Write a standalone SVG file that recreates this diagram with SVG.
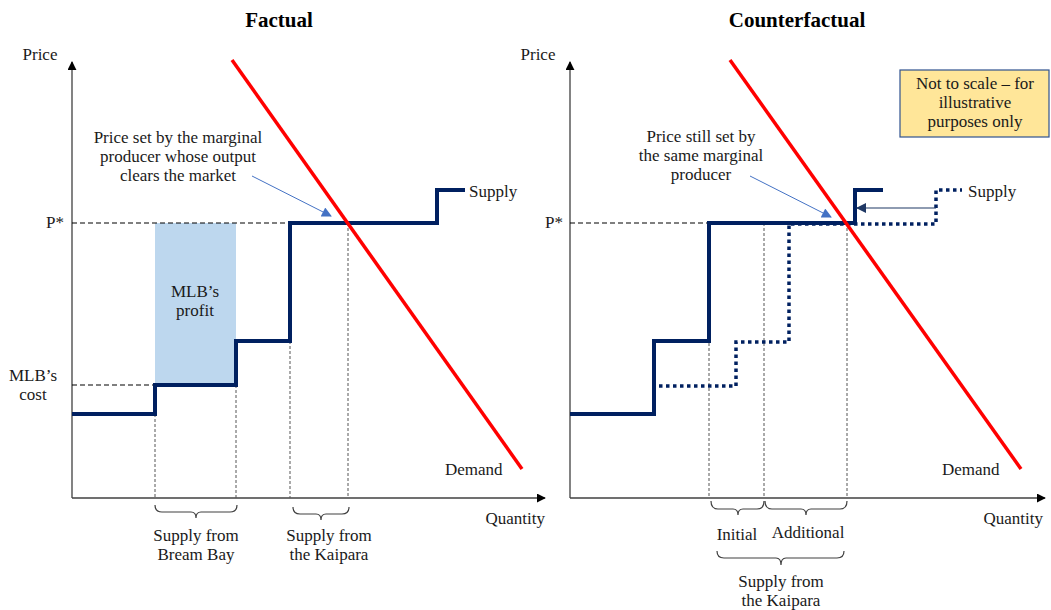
<svg xmlns="http://www.w3.org/2000/svg" width="1051" height="610" viewBox="0 0 1051 610">
<defs>
<marker id="axArr" viewBox="0 0 10 10" refX="9" refY="5" markerWidth="9" markerHeight="9" markerUnits="userSpaceOnUse" orient="auto"><path d="M0,0 L10,5 L0,10 Z" fill="#000"/></marker>
<marker id="blueArr" viewBox="0 0 10 10" refX="9" refY="5" markerWidth="12" markerHeight="10" markerUnits="userSpaceOnUse" orient="auto"><path d="M0,0 L10,5 L0,10 Z" fill="#4472C4"/></marker>
<marker id="navyArr" viewBox="0 0 10 10" refX="9" refY="5" markerWidth="10" markerHeight="10" markerUnits="userSpaceOnUse" orient="auto"><path d="M0,0 L10,5 L0,10 Z" fill="#1F3864"/></marker>
</defs>
<style>
text{font-family:"Liberation Serif","DejaVu Serif",serif;font-size:17px;fill:#1a1a1a}
.title{font-size:21px;font-weight:bold;fill:#000}
.mid{text-anchor:middle}
.end{text-anchor:end}
.axis{stroke:#404040;stroke-width:1.3;fill:none}
.pdash{stroke:#000;stroke-width:1.1;stroke-dasharray:5,3;fill:none}
.vdot{stroke:#555;stroke-width:1;stroke-dasharray:3,2;fill:none}
.supply{stroke:#002060;stroke-width:4;fill:none;stroke-linejoin:miter}
.supdot{stroke:#002060;stroke-width:3.5;fill:none;stroke-dasharray:3.5,3.5}
.demand{stroke:#FF0000;stroke-width:3.5;fill:none}
.brace{stroke:#404040;stroke-width:1.2;fill:none}
.note{stroke:#4472C4;stroke-width:1;fill:none}
</style>

<g id="factual">
<text class="title mid" x="279" y="27">Factual</text>
<g id="f-axes">
<line class="axis" x1="72" y1="498" x2="72" y2="62" marker-end="url(#axArr)"/>
<line class="axis" x1="72" y1="498" x2="545" y2="498" marker-end="url(#axArr)"/>
<text class="mid" x="40" y="60">Price</text>
<text class="end" x="545" y="524">Quantity</text>
</g>
<g id="f-profit"><rect x="155" y="223" width="81" height="162" fill="#BDD7EE"/>
<text class="mid" x="195" y="297">MLB’s</text><text class="mid" x="195" y="316">profit</text></g>
<g id="f-guides">
<line class="pdash" x1="72" y1="223" x2="290" y2="223"/>
<text class="end" x="64" y="228">P*</text>
<line class="pdash" x1="72" y1="385" x2="155" y2="385"/>
<text class="mid" x="33" y="381">MLB’s</text><text class="mid" x="33" y="400">cost</text>
<line class="vdot" x1="155" y1="414" x2="155" y2="498"/>
<line class="vdot" x1="236" y1="385" x2="236" y2="498"/>
<line class="vdot" x1="290" y1="341" x2="290" y2="498"/>
<line class="vdot" x1="348" y1="223" x2="348" y2="498"/>
</g>
<g id="f-supply"><path class="supply" d="M72,414 H155 V385 H236 V341 H290 V223 H437 V190 H465"/>
<text x="469" y="197">Supply</text></g>
<g id="f-demand"><line class="demand" x1="232" y1="60" x2="522" y2="469"/>
<text x="445" y="475">Demand</text></g>
<g id="f-note">
<text class="mid" x="178" y="143">Price set by the marginal</text>
<text class="mid" x="178" y="162">producer whose output</text>
<text class="mid" x="178" y="181">clears the market</text>
</g>
<g id="f-brace1"><path class="brace" d="M155,505 Q155,512 162,512 L191,512 Q196,512 196,518 Q196,512 201,512 L230,512 Q237,512 237,505"/>
<text class="mid" x="196" y="541">Supply from</text><text class="mid" x="196" y="560">Bream Bay</text></g>
<g id="f-brace2"><path class="brace" d="M293,507 Q293,514 300,514 L316,514 Q321,514 321,520 Q321,514 326,514 L342,514 Q349,514 349,507"/>
<text class="mid" x="329" y="541">Supply from</text><text class="mid" x="329" y="560">the Kaipara</text></g>
</g>

<g id="counterfactual">
<text class="title mid" x="797" y="27">Counterfactual</text>
<g id="c-axes">
<line class="axis" x1="570" y1="498" x2="570" y2="62" marker-end="url(#axArr)"/>
<line class="axis" x1="570" y1="498" x2="1045" y2="498" marker-end="url(#axArr)"/>
<text class="mid" x="538" y="60">Price</text>
<text class="end" x="1043" y="524">Quantity</text>
</g>
<g id="c-guides">
<line class="pdash" x1="570" y1="223" x2="709" y2="223"/>
<text class="end" x="563" y="228">P*</text>
<line class="vdot" x1="709" y1="223" x2="709" y2="498"/>
<line class="vdot" x1="764" y1="223" x2="764" y2="498"/>
<line class="vdot" x1="847" y1="223" x2="847" y2="498"/>
</g>
<g id="c-supply-dotted"><path class="supdot" d="M659,386 H736 V342 H789 V224 H936 V190 H962"/>
<text x="968" y="197">Supply</text></g>
<g id="c-supply"><path class="supply" d="M570,414 H654 V341 H709 V223 H855 V190 H883"/></g>
<g id="c-demand"><line class="demand" x1="730" y1="60" x2="1021" y2="469"/>
<text x="942" y="475">Demand</text></g>
<g id="c-note">
<text class="mid" x="701" y="142">Price still set by</text>
<text class="mid" x="701" y="161">the same marginal</text>
<text class="mid" x="701" y="180">producer</text>
</g>
<g id="c-brace-initial"><path class="brace" d="M711,501 Q711,509 718,509 L733,509 Q738,509 738,515 Q738,509 743,509 L757,509 Q764,509 764,501"/>
<text class="mid" x="737" y="540">Initial</text></g>
<g id="c-brace-additional"><path class="brace" d="M765,501 Q765,509 772,509 L801,509 Q806,509 806,515 Q806,509 811,509 L840,509 Q847,509 847,501"/>
<text class="mid" x="808" y="538">Additional</text></g>
<g id="c-brace-total"><path class="brace" d="M717,551 Q717,558 724,558 L776,558 Q781,558 781,565 Q781,558 786,558 L837,558 Q844,558 844,551"/>
<text class="mid" x="781" y="587">Supply from</text><text class="mid" x="781" y="606">the Kaipara</text></g>
<g id="c-box"><rect x="900" y="70" width="149" height="67" fill="#FFE699" stroke="#2F528F" stroke-width="1.2"/>
<text class="mid" x="975" y="89">Not to scale – for</text>
<text class="mid" x="975" y="108">illustrative</text>
<text class="mid" x="975" y="127">purposes only</text></g>
</g>

<g id="connectors">
<line class="note" x1="252" y1="176" x2="331" y2="216" marker-end="url(#blueArr)"/>
<line class="note" x1="750" y1="176" x2="831" y2="217" marker-end="url(#blueArr)"/>
<line x1="936" y1="208" x2="857" y2="208" stroke="#1F3864" stroke-width="1.2" marker-end="url(#navyArr)"/>
</g>
</svg>
